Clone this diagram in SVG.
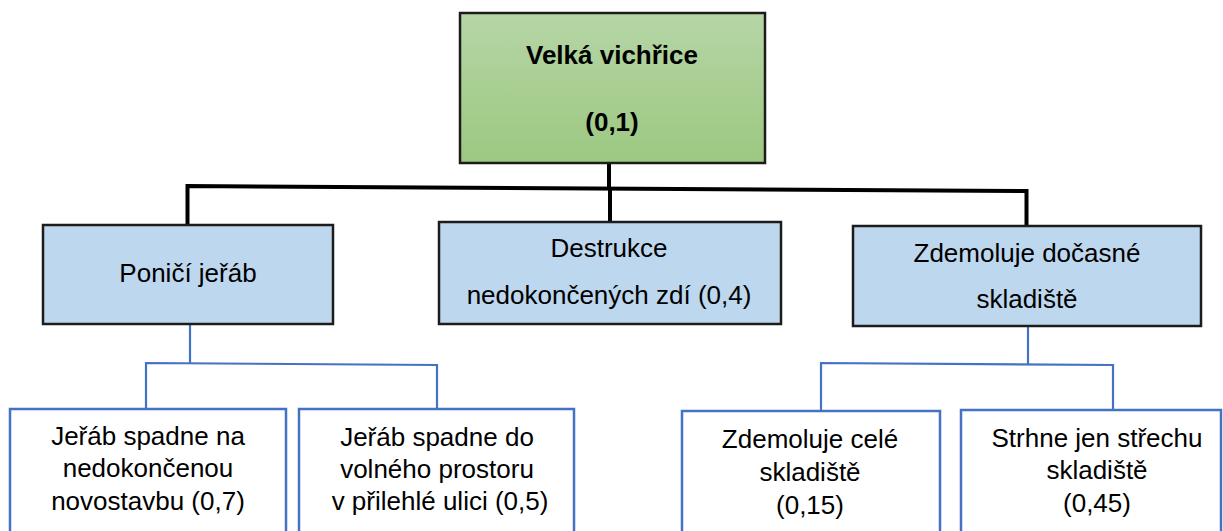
<svg xmlns="http://www.w3.org/2000/svg" width="1223" height="531" viewBox="0 0 1223 531">
<defs>
<linearGradient id="gGreen" x1="0" y1="0" x2="0" y2="1">
<stop offset="0" stop-color="#b6d6a6"/>
<stop offset="1" stop-color="#9cc881"/>
</linearGradient>
<style>
.t{font-family:"Liberation Sans",Arial,sans-serif;font-size:26px;fill:#000;text-anchor:middle}
.b{font-weight:bold}
.mid{fill:#bdd7ee;stroke:#1c1c1c;stroke-width:2.5}
.leaf{fill:#fff;stroke:#4472c4;stroke-width:2.5}
.k{fill:none;stroke:#000;stroke-width:4}
.bl{fill:none;stroke:#4472c4;stroke-width:2.2}
</style>
</defs>
<rect width="1223" height="531" fill="#fff"/>
<g id="connectors">
<path class="k" d="M609,163 V188"/>
<path class="k" d="M187.5,224 V186 L1026.5,191 V226"/>
<path class="k" d="M610,188 V222"/>
<path class="bl" d="M190,324 V364"/>
<path class="bl" d="M146,409 V363 L437,365 V409"/>
<path class="bl" d="M1028,326 V364"/>
<path class="bl" d="M821,411 V363 L1113,365 V410"/>
</g>
<g id="root">
<rect x="460" y="13" width="305" height="150" fill="url(#gGreen)" stroke="#1c1c1c" stroke-width="2.5"/>
<text class="t b" x="612" y="64">Velká vichřice</text>
<text class="t b" x="612" y="131">(0,1)</text>
</g>
<g id="n1">
<rect class="mid" x="43" y="225" width="290" height="99"/>
<text class="t" x="188" y="282">Poničí jeřáb</text>
</g>
<g id="n2">
<rect class="mid" x="439" y="222" width="342" height="102"/>
<text class="t" x="609" y="257">Destrukce</text>
<text class="t" x="609" y="304">nedokončených zdí (0,4)</text>
</g>
<g id="n3">
<rect class="mid" x="853" y="226" width="348" height="100"/>
<text class="t" x="1027" y="262">Zdemoluje dočasné</text>
<text class="t" x="1027" y="308">skladiště</text>
</g>
<g id="n11">
<rect class="leaf" x="10" y="409" width="276" height="140"/>
<text class="t" x="148" y="445">Jeřáb spadne na</text>
<text class="t" x="148" y="477">nedokončenou</text>
<text class="t" x="148" y="510">novostavbu (0,7)</text>
</g>
<g id="n12">
<rect class="leaf" x="299" y="409" width="275" height="140"/>
<text class="t" x="437" y="446">Jeřáb spadne do</text>
<text class="t" x="437" y="478">volného prostoru</text>
<text class="t" x="440" y="510">v přilehlé ulici (0,5)</text>
</g>
<g id="n31">
<rect class="leaf" x="682" y="411" width="258" height="140"/>
<text class="t" x="810" y="448">Zdemoluje celé</text>
<text class="t" x="810" y="481">skladiště</text>
<text class="t" x="810" y="514">(0,15)</text>
</g>
<g id="n32">
<rect class="leaf" x="961" y="410" width="260" height="140"/>
<text class="t" x="1097" y="447">Strhne jen střechu</text>
<text class="t" x="1097" y="479">skladiště</text>
<text class="t" x="1097" y="512">(0,45)</text>
</g>
</svg>
